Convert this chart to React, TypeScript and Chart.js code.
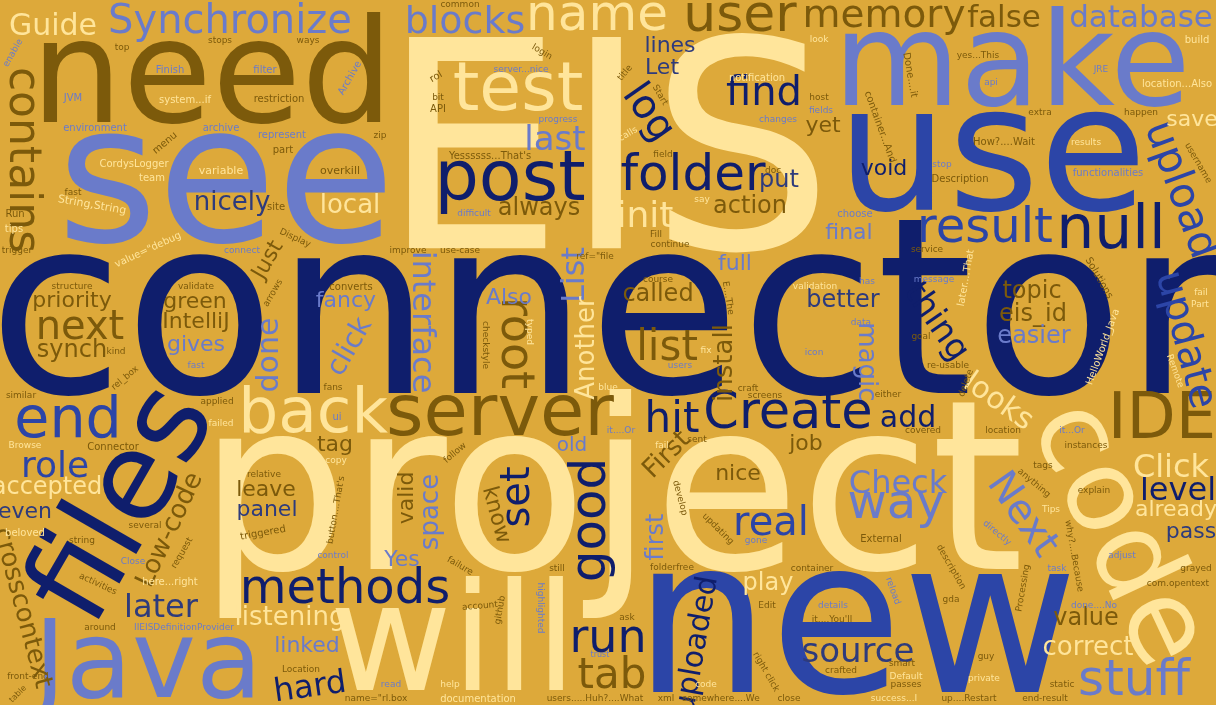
import { useEffect, useRef } from "react"
import { Chart, registerables } from "chart.js"

Chart.register(...registerables)

// [word, weight (px), x, y, angle (deg), tone]
type Word = [string, number, number, number, number, number]

const N = 0, R = 1, P = 2, C = 3, B = 4, S = 5
const tones = ["#0F1E6C", "#2C45A7", "#6A7BCA", "#FFE59B", "#7C5A0B", "#2E3B7C"]
const background = "#DDA93A"

const bigWords: Word[] = [
  ["connector", 247, 607, 326, 0, N],
  ["EIS", 290, 607, 170, 0, C],
  ["project", 238, 611, 505, 0, C],
  ["new", 215, 856, 634, 0, R],
  ["see", 193, 226, 189, 0, P],
  ["use", 175, 992, 163, 0, R],
  ["will", 150, 453, 649, 0, C],
  ["need", 145, 212, 83, 0, B],
  ["make", 130, 1012, 70, 0, P],
  ["files", 122, 126, 506, -60, N],
  ["code", 115, 1117, 535, 65, C],
  ["Java", 108, 148, 668, 0, P],
]

const midWords: Word[] = [
  ["server", 72, 500, 416, 0, B],
  ["post", 70, 510, 181, 0, N],
  ["test", 68, 518, 92, 0, C],
  ["back", 63, 313, 415, 0, C],
  ["IDE", 64, 1162, 421, 0, B],
  ["null", 60, 1111, 232, 0, N],
  ["end", 57, 68, 422, 0, R],
  ["Create", 51, 788, 414, 0, N],
  ["name", 50, 597, 16, 0, C],
  ["user", 52, 740, 17, 0, B],
  ["folder", 50, 693, 176, 0, N],
  ["good", 50, 591, 520, -90, N],
  ["stuff", 50, 1134, 681, 0, P],
  ["way", 48, 896, 505, 0, P],
  ["result", 48, 985, 229, 0, R],
  ["methods", 48, 345, 590, 0, N],
  ["run", 46, 608, 640, 0, N],
  ["root", 46, 514, 343, 90, B],
  ["tab", 42, 612, 677, 0, B],
  ["hit", 42, 672, 421, 0, N],
  ["upload", 42, 1180, 190, 70, R],
  ["list", 42, 667, 349, 0, B],
  ["find", 40, 764, 94, 0, N],
  ["next", 40, 80, 328, 0, B],
  ["log", 40, 648, 113, 55, N],
  ["real", 40, 771, 524, 0, R],
  ["Next", 40, 1022, 515, 55, P],
  ["update", 40, 1185, 340, 75, R],
  ["set", 40, 518, 497, -90, N],
  ["memory", 39, 884, 16, 0, B],
  ["Synchronize", 40, 230, 22, 0, P],
  ["blocks", 38, 465, 23, 0, P],
  ["role", 36, 55, 467, 0, R],
  ["init", 36, 645, 217, 0, C],
  ["last", 34, 555, 141, 0, P],
  ["thing", 34, 936, 322, 55, N],
  ["source", 34, 858, 653, 0, S],
  ["level", 32, 1178, 491, 0, N],
  ["Check", 32, 898, 484, 0, P],
  ["Click", 32, 1171, 468, 0, C],
  ["later", 32, 161, 608, 0, S],
  ["hard", 32, 310, 688, -8, N],
  ["interface", 32, 422, 322, 90, P],
  ["List", 32, 575, 275, -90, P],
  ["click", 28, 350, 347, -60, P],
  ["looks", 30, 998, 402, 35, C],
  ["add", 30, 908, 419, 0, N],
  ["done", 30, 270, 355, -90, P],
  ["uploaded", 30, 697, 645, -80, N],
  ["false", 31, 1004, 19, 0, B],
  ["database", 31, 1141, 19, 0, P],
  ["Guide", 30, 53, 27, 0, C],
  ["contains", 44, 22, 160, 90, B],
]

const smallWords: Word[] = [
  ["Low-code", 26, 170, 530, -65, B],
  ["crosscontext", 26, 22, 608, 75, B],
  ["space", 26, 431, 512, -90, P],
  ["Another", 26, 587, 348, -90, C],
  ["install", 26, 725, 363, -90, B],
  ["First", 26, 667, 455, -45, B],
  ["listening", 26, 290, 618, 0, C],
  ["correct", 26, 1088, 648, 0, C],
  ["local", 26, 350, 206, 0, C],
  ["nicely", 26, 232, 203, 0, S],
  ["magic", 26, 866, 362, 90, P],
  ["first", 24, 657, 537, -90, P],
  ["always", 24, 539, 209, 0, B],
  ["action", 24, 750, 207, 0, B],
  ["put", 24, 779, 181, 0, S],
  ["called", 24, 658, 295, 0, B],
  ["topic", 24, 1032, 292, 0, B],
  ["eis_id", 24, 1033, 315, 0, B],
  ["easier", 24, 1034, 337, 0, P],
  ["better", 24, 843, 301, 0, S],
  ["value", 24, 1086, 619, 0, B],
  ["play", 24, 768, 584, 0, C],
  ["accepted", 24, 47, 488, 0, C],
  ["synch", 24, 72, 351, 0, B],
  ["Just", 22, 268, 260, -60, B],
  ["priority", 22, 72, 301, 0, B],
  ["green", 22, 195, 302, 0, B],
  ["IntelliJ", 22, 196, 322, 0, B],
  ["gives", 22, 196, 345, 0, P],
  ["fancy", 22, 346, 301, 0, P],
  ["tag", 22, 335, 445, 0, B],
  ["even", 22, 25, 512, 0, S],
  ["leave", 22, 266, 490, 0, B],
  ["panel", 22, 267, 510, 0, S],
  ["linked", 22, 307, 646, 0, P],
  ["Yes", 22, 402, 560, 0, P],
  ["valid", 22, 407, 498, -90, B],
  ["know", 22, 496, 515, 75, B],
  ["nice", 22, 738, 474, 0, B],
  ["pass", 22, 1191, 532, 0, S],
  ["already", 22, 1176, 510, 0, C],
  ["full", 22, 735, 264, 0, P],
  ["Also", 22, 509, 298, 0, P],
  ["old", 20, 572, 446, 0, P],
  ["job", 22, 806, 444, 0, B],
  ["yet", 22, 823, 126, 0, B],
  ["save", 22, 1192, 120, 0, C],
  ["void", 22, 884, 169, 0, N],
  ["final", 22, 849, 233, 0, P],
  ["lines", 22, 670, 46, 0, S],
  ["Let", 22, 662, 68, 0, S],
]

const tinyWords: Word[] = [
  ["common", 9, 460, 5, 0, B],
  ["top", 9, 122, 48, 0, B],
  ["stops", 9, 220, 41, 0, B],
  ["ways", 9, 308, 41, 0, B],
  ["enable", 9, 13, 53, -60, P],
  ["Finish", 10, 170, 70, 0, P],
  ["filter", 10, 265, 70, 0, P],
  ["Archive", 10, 350, 78, -60, P],
  ["JVM", 10, 73, 98, 0, P],
  ["system...if", 10, 185, 100, 0, C],
  ["restriction", 10, 279, 99, 0, B],
  ["environment", 10, 95, 128, 0, P],
  ["archive", 10, 221, 128, 0, P],
  ["represent", 10, 282, 135, 0, P],
  ["zip", 9, 380, 136, 0, B],
  ["menu", 10, 165, 143, -40, B],
  ["part", 10, 283, 150, 0, B],
  ["CordysLogger", 10, 134, 164, 0, C],
  ["variable", 11, 221, 171, 0, C],
  ["overkill", 11, 340, 171, 0, B],
  ["team", 10, 152, 178, 0, C],
  ["fast", 9, 73, 193, 0, B],
  ["String,String", 11, 92, 205, 10, C],
  ["site", 10, 276, 207, 0, B],
  ["Run", 10, 15, 214, 0, B],
  ["tips", 10, 14, 229, 0, C],
  ["Display", 9, 295, 238, 25, B],
  ["value=\"debug", 10, 148, 250, -25, C],
  ["trigger", 9, 17, 251, 0, B],
  ["connect", 9, 242, 251, 0, P],
  ["improve", 9, 408, 251, 0, B],
  ["use-case", 9, 460, 251, 0, B],
  ["structure", 9, 72, 287, 0, B],
  ["validate", 9, 196, 287, 0, B],
  ["converts", 10, 351, 287, 0, B],
  ["arrows", 9, 273, 293, -60, B],
  ["kind", 9, 116, 352, 0, B],
  ["fast", 9, 196, 366, 0, P],
  ["rel_box", 9, 125, 378, -40, B],
  ["fans", 9, 333, 388, 0, B],
  ["similar", 9, 21, 396, 0, B],
  ["applied", 9, 217, 402, 0, B],
  ["ui", 10, 337, 417, 0, P],
  ["failed", 9, 221, 424, 0, C],
  ["Browse", 9, 25, 446, 0, C],
  ["Connector", 10, 113, 447, 0, B],
  ["copy", 9, 336, 461, 0, C],
  ["relative", 9, 264, 475, 0, B],
  ["beloved", 10, 25, 533, 0, C],
  ["several", 9, 145, 526, 0, B],
  ["string", 9, 82, 541, 0, B],
  ["request", 9, 182, 553, -60, B],
  ["triggered", 10, 263, 533, -10, B],
  ["button....That's", 9, 336, 510, -80, B],
  ["control", 9, 333, 556, 0, P],
  ["Close", 9, 133, 562, 0, P],
  ["activities", 9, 98, 584, 25, B],
  ["here...right", 10, 170, 582, 0, C],
  ["around", 9, 100, 628, 0, B],
  ["IIEISDefinitionProvider", 9, 184, 628, 0, P],
  ["Location", 9, 301, 670, 0, B],
  ["front-end", 9, 28, 677, 0, B],
  ["table", 8, 18, 694, -45, B],
  ["read", 9, 391, 685, 0, P],
  ["name=\"rl.box", 9, 376, 699, 0, B],
  ["login", 9, 542, 52, 30, B],
  ["rol", 10, 436, 77, -30, B],
  ["server...nice", 9, 521, 70, 0, P],
  ["bit", 9, 438, 98, 0, B],
  ["API", 10, 438, 109, 0, B],
  ["progress", 9, 558, 120, 0, P],
  ["Yessssss...That's", 10, 490, 156, 0, B],
  ["difficult", 9, 474, 214, 0, P],
  ["title", 9, 625, 73, -50, B],
  ["Start", 9, 660, 95, 60, B],
  ["calls", 9, 628, 134, -30, C],
  ["field", 9, 663, 155, 0, B],
  ["doc", 9, 773, 171, 0, B],
  ["say", 9, 702, 200, 0, C],
  ["Fill", 9, 656, 235, 0, B],
  ["continue", 9, 670, 245, 0, B],
  ["notification", 10, 757, 78, 0, C],
  ["changes", 9, 778, 120, 0, P],
  ["ref=\"file", 9, 595, 257, 0, B],
  ["course", 9, 658, 280, 0, B],
  ["checkstyle", 9, 485, 345, 90, B],
  ["typed", 9, 529, 332, 90, C],
  ["blue", 9, 608, 388, 0, C],
  ["fix", 9, 706, 351, 0, C],
  ["users", 9, 680, 366, 0, P],
  ["E....The", 9, 728, 298, 80, B],
  ["craft", 9, 748, 389, 0, B],
  ["screens", 9, 765, 396, 0, B],
  ["follow", 9, 455, 453, -40, B],
  ["it....Or", 9, 621, 431, 0, P],
  ["fail", 9, 662, 446, 0, C],
  ["sent", 9, 697, 440, 0, B],
  ["look", 9, 819, 40, 0, C],
  ["yes...This", 9, 978, 56, 0, B],
  ["Done....it", 10, 910, 75, 80, B],
  ["JRE", 9, 1101, 70, 0, P],
  ["build", 10, 1197, 40, 0, C],
  ["api", 9, 991, 83, 0, P],
  ["location...Also", 10, 1177, 84, 0, C],
  ["host", 9, 819, 98, 0, B],
  ["fields", 9, 821, 111, 0, P],
  ["container...And", 10, 880, 127, 70, B],
  ["extra", 9, 1040, 113, 0, B],
  ["happen", 9, 1141, 113, 0, B],
  ["How?....Wait", 10, 1004, 142, 0, B],
  ["results", 9, 1086, 143, 0, C],
  ["username", 9, 1198, 163, 60, B],
  ["stop", 9, 942, 165, 0, P],
  ["Description", 10, 960, 179, 0, B],
  ["functionalities", 10, 1108, 173, 0, P],
  ["choose", 10, 855, 214, 0, P],
  ["service", 9, 927, 250, 0, B],
  ["has", 9, 867, 282, 0, P],
  ["message", 9, 934, 280, 0, P],
  ["later....That", 10, 966, 278, -80, C],
  ["Solutions", 10, 1099, 278, 60, B],
  ["validation", 9, 815, 287, 0, C],
  ["data", 9, 861, 323, 0, P],
  ["goal", 9, 921, 337, 0, B],
  ["icon", 9, 814, 353, 0, P],
  ["re-usable", 9, 948, 366, 0, B],
  ["delete", 9, 966, 383, -70, B],
  ["either", 9, 888, 395, 0, B],
  ["HelloWorld_Java", 10, 1103, 347, -70, C],
  ["fail", 9, 1201, 293, 0, C],
  ["Part", 9, 1200, 305, 0, C],
  ["Remote", 9, 1175, 371, 70, C],
  ["covered", 9, 923, 431, 0, B],
  ["location", 9, 1003, 431, 0, B],
  ["it...Or", 9, 1072, 431, 0, P],
  ["instances", 9, 1086, 446, 0, B],
  ["tags", 9, 1043, 466, 0, B],
  ["develop", 9, 680, 498, 75, B],
  ["updating", 9, 718, 529, 45, B],
  ["gone", 9, 756, 541, 0, P],
  ["failure", 9, 460, 566, 30, B],
  ["still", 9, 557, 569, 0, B],
  ["folderfree", 9, 672, 568, 0, B],
  ["account", 9, 480, 606, -5, B],
  ["github", 9, 500, 610, -80, B],
  ["highlighted", 9, 540, 608, 90, P],
  ["Edit", 9, 767, 606, 0, B],
  ["ask", 9, 627, 618, 0, B],
  ["trust", 8, 600, 655, 0, P],
  ["right click", 9, 766, 672, 60, B],
  ["code", 9, 706, 685, 0, C],
  ["help", 9, 450, 685, 0, C],
  ["documentation", 10, 478, 699, 0, C],
  ["users.....Huh?....What", 9, 595, 699, 0, B],
  ["xml", 9, 666, 699, 0, B],
  ["somewhere....We", 9, 721, 699, 0, B],
  ["close", 9, 789, 699, 0, B],
  ["External", 10, 881, 539, 0, B],
  ["anything", 9, 1034, 483, 40, B],
  ["explain", 9, 1094, 491, 0, B],
  ["Tips", 9, 1051, 510, 0, C],
  ["why?....Because", 9, 1074, 556, 80, B],
  ["directly", 9, 997, 533, 40, P],
  ["description", 9, 951, 567, 60, B],
  ["Processing", 9, 1023, 588, -80, B],
  ["task", 9, 1057, 569, 0, P],
  ["adjust", 9, 1122, 556, 0, P],
  ["grayed", 9, 1196, 569, 0, B],
  ["com.opentext", 9, 1178, 584, 0, B],
  ["container", 9, 812, 569, 0, B],
  ["reload", 9, 893, 591, 70, P],
  ["gda", 9, 951, 600, 0, B],
  ["done....No", 9, 1094, 606, 0, P],
  ["details", 9, 833, 606, 0, P],
  ["it....You'll", 9, 832, 620, 0, B],
  ["guy", 9, 986, 657, 0, B],
  ["smart", 9, 902, 664, 0, B],
  ["crafted", 9, 841, 671, 0, B],
  ["Default", 9, 906, 677, 0, C],
  ["passes", 9, 906, 685, 0, B],
  ["private", 9, 984, 679, 0, C],
  ["static", 9, 1062, 685, 0, B],
  ["success...I", 9, 894, 699, 0, C],
  ["up....Restart", 9, 969, 699, 0, B],
  ["end-result", 9, 1045, 699, 0, B],
]

const WIDTH = 1216
const HEIGHT = 705

// draws each word at its point, through the chart's x/y scales
const wordCloudPlugin = {
  id: "wordCloud",
  beforeDraw(chart: any) {
    const { ctx } = chart
    ctx.save()
    ctx.fillStyle = background
    ctx.fillRect(0, 0, chart.width, chart.height)
    ctx.restore()
  },
  afterDatasetsDraw(chart: any) {
    const { ctx, scales } = chart
    const points = chart.data.datasets[0].data as any[]
    points.forEach((pt) => {
      const px = scales.x.getPixelForValue(pt.x)
      const py = scales.y.getPixelForValue(pt.y)
      ctx.save()
      ctx.translate(px, py)
      ctx.rotate((pt.angle * Math.PI) / 180)
      ctx.font = `${pt.weight}px "DejaVu Sans"`
      ctx.fillStyle = tones[pt.tone]
      ctx.textAlign = "center"
      ctx.textBaseline = "alphabetic"
      ctx.fillText(pt.text, 0, pt.weight * 0.27)
      ctx.restore()
    })
  },
}

export default function App() {
  const chartRef = useRef<HTMLCanvasElement>(null)
  const chartInstance = useRef<Chart | null>(null)

  useEffect(() => {
    document.body.style.margin = "0"
    if (!chartRef.current) return

    if (chartInstance.current) {
      chartInstance.current.destroy()
    }

    const words = [...bigWords, ...midWords, ...smallWords, ...tinyWords]
    const points = words.map(([text, weight, x, y, angle, tone]) => ({ x, y, text, weight, angle, tone }))

    const ctx = chartRef.current.getContext("2d")
    if (ctx) {
      chartInstance.current = new Chart(ctx, {
        type: "scatter",
        data: {
          datasets: [
            {
              label: "words",
              data: points as any,
              pointRadius: 0,
              pointHoverRadius: 0,
            },
          ],
        },
        options: {
          animation: false,
          responsive: false,
          devicePixelRatio: 1,
          layout: { padding: 0 },
          plugins: {
            legend: { display: false },
            tooltip: { enabled: false },
          },
          scales: {
            x: { type: "linear", min: 0, max: WIDTH, display: false },
            y: { type: "linear", min: 0, max: HEIGHT, reverse: true, display: false },
          },
        },
        plugins: [wordCloudPlugin],
      })
    }

    return () => {
      if (chartInstance.current) {
        chartInstance.current.destroy()
        chartInstance.current = null
      }
    }
  }, [])

  return (
    <div style={{ width: WIDTH, height: HEIGHT }}>
      <canvas ref={chartRef} width={WIDTH} height={HEIGHT} style={{ display: "block" }} />
    </div>
  )
}
